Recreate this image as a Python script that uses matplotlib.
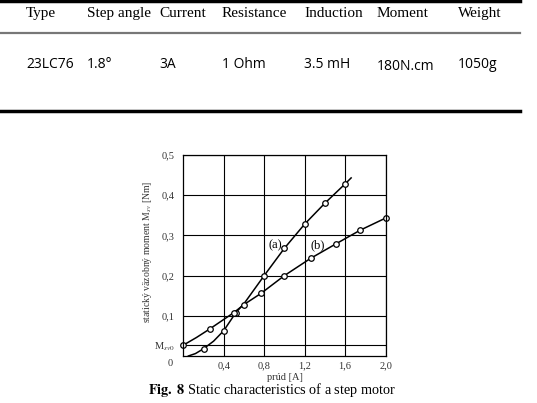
import numpy as np
import matplotlib
matplotlib.use('Agg')
from matplotlib import pyplot as plt
from matplotlib.lines import Line2D

W, H = 537, 403

# table data
headers = ['Type', 'Step angle', 'Current', 'Resistance', 'Induction', 'Moment', 'Weight']
values = ['23LC76', '1.8°', '3A', '1 Ohm', '3.5 mH', '180N.cm', '1050g']

# curve (a): line path and marked points
a_x = [0.05, 0.12, 0.2, 0.3, 0.4, 0.52, 0.6, 0.8, 1.0, 1.2, 1.4, 1.6, 1.66]
a_y = [0.0, 0.006, 0.018, 0.037, 0.063, 0.108, 0.13, 0.2, 0.268, 0.328, 0.38, 0.428, 0.443]
a_mx = [0.2, 0.4, 0.52, 0.8, 1.0, 1.2, 1.4, 1.6]
a_my = [0.018, 0.063, 0.108, 0.2, 0.268, 0.328, 0.38, 0.428]

# curve (b)
b_x = [0.0, 0.13, 0.26, 0.5, 0.6, 0.77, 1.0, 1.26, 1.51, 1.75, 2.0]
b_y = [0.027, 0.046, 0.067, 0.108, 0.128, 0.156, 0.2, 0.243, 0.279, 0.313, 0.343]
b_mx = b_x[:1] + b_x[2:]
b_my = b_y[:1] + b_y[2:]

xticks = [0.4, 0.8, 1.2, 1.6, 2.0]
yticks = [0.1, 0.2, 0.3, 0.4, 0.5]
msv0 = 0.027

plt.rcParams['mathtext.fontset'] = 'stix'

fig = plt.figure(figsize=(W / 100, H / 100), dpi=100)

def fx(p):
    return p / W

def fy(p):
    return 1 - p / H

# ---------- table ----------
col_x = [26, 87, 159, 222, 304, 377, 458]
for i in range(len(headers)):
    fig.text(fx(col_x[i]), fy(17), headers[i], family='Liberation Serif', fontsize=11,
             va='baseline', ha='left')
    fig.text(fx(col_x[i]), fy(68 if i != 5 else 70), values[i], family='Open Sans', fontsize=10,
             va='baseline', ha='left')

fig.add_artist(Line2D([0, fx(520)], [fy(1), fy(1)], color='black', lw=2.5))
fig.add_artist(Line2D([0, fx(520)], [fy(33), fy(33)], color='#777777', lw=1.6))
fig.add_artist(Line2D([0, fx(520)], [fy(111), fy(111)], color='black', lw=2.5))

# ---------- chart ----------
ax = fig.add_axes([fx(183.3), fy(356), fx(385.5) - fx(183.3), fy(155) - fy(356)])
ax.set_xlim(0, 2.0)
ax.set_ylim(0, 0.5)

ax.plot(a_x, a_y, color='black', lw=1.1)
ax.plot(a_mx, a_my, 'o', ms=4, mfc='white', mec='black', mew=0.9)
ax.plot(b_x, b_y, color='black', lw=1.1)
ax.plot(b_mx, b_my, 'o', ms=4, mfc='white', mec='black', mew=0.9, clip_on=False)

ax.set_xticks(xticks)
ax.set_xticklabels([('%.1f' % t).replace('.', ',') for t in xticks])
ax.set_yticks([msv0] + yticks)
ax.set_yticklabels(['M$_{sv0}$'] + [('%.1f' % t).replace('.', ',') for t in yticks])
ax.tick_params(length=0, labelsize=7.5, colors='#333333', pad=4)
ax.tick_params(axis='y', pad=6)
for lab in ax.get_xticklabels() + ax.get_yticklabels():
    lab.set_family('Liberation Serif')

ax.grid(True, color='black', lw=0.8)
for s in ax.spines.values():
    s.set_linewidth(0.9)

ax.text(-0.1, -0.008, '0', family='Liberation Serif', fontsize=7.5, color='#333333',
        ha='right', va='top', transform=ax.transData)
ax.text(0.91, 0.276, '(a)', family='Liberation Serif', fontsize=9, ha='center', va='center')
ax.text(1.33, 0.276, '(b)', family='Liberation Serif', fontsize=9, ha='center', va='center')

fig.text(fx(148), fy(252), 'statický väzobný moment M$_{sv}$ [Nm]', family='Liberation Serif',
         fontsize=7, rotation=90, ha='center', va='center', color='#333333')
fig.text(fx(285), fy(377), 'prúd [A]', family='Liberation Serif', fontsize=7.5,
         ha='center', va='center', color='#333333')

# caption
fig.text(fx(272), fy(390), r'$\mathbf{Fig.\ 8}$ Static characteristics of a step motor',
         family='Liberation Serif', fontsize=10.3, ha='center', va='center')

fig.savefig('out.png', dpi=100)
